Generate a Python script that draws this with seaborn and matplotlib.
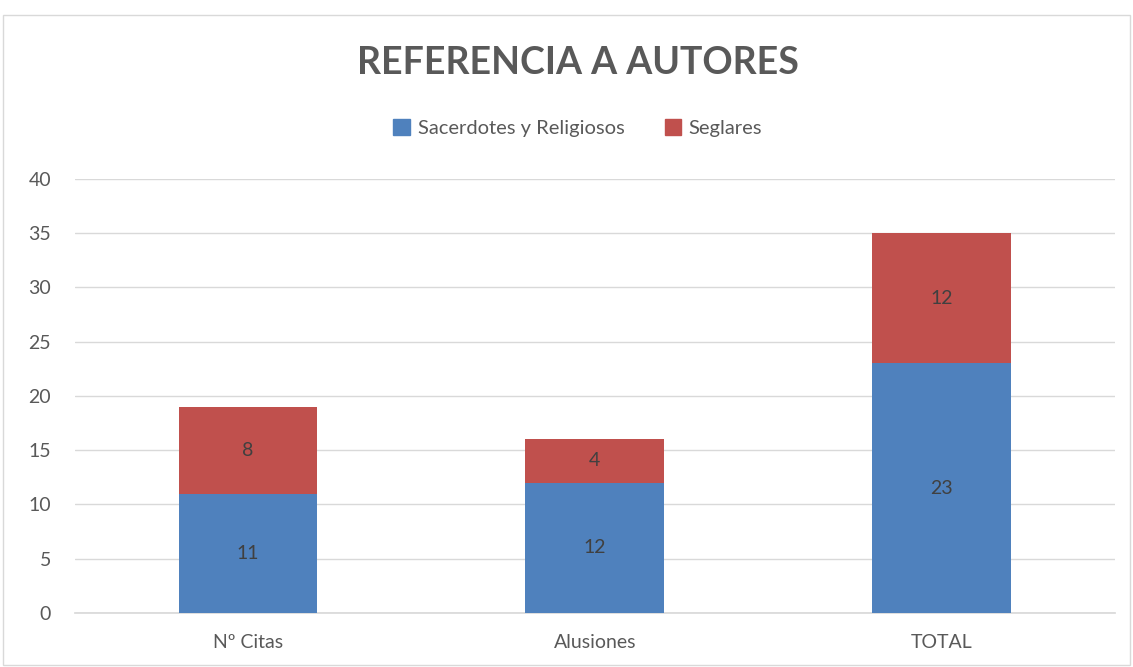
import numpy as np
import pandas as pd
import matplotlib
matplotlib.use("Agg")
import matplotlib.pyplot as plt
import seaborn as sns
from matplotlib.patches import Rectangle, Patch

### Data

categories = ["Nº Citas", "Alusiones", "TOTAL"]
sacerdotes = [11, 12, 23]
seglares = [8, 4, 12]

blue = "#4F81BD"
red = "#C0504D"
text_gray = "#595959"

sns.set_theme(style="white")
plt.rcParams['font.family'] = ['Lato', 'DejaVu Sans']

df = pd.DataFrame({"categoria": categories,
                   "Sacerdotes y Religiosos": sacerdotes,
                   "Seglares": seglares})
df["total"] = df["Sacerdotes y Religiosos"] + df["Seglares"]

### Plot

fig = plt.figure(figsize=(11.33, 6.67), dpi=100)
ax = fig.add_axes([0.066, 0.081, 0.918, 0.651])

# stacked bars: total in red, bottom part in blue on top of it
sns.barplot(data=df, x="categoria", y="total", color=red, saturation=1,
            width=0.4, ax=ax, zorder=2, linewidth=0)
sns.barplot(data=df, x="categoria", y="Sacerdotes y Religiosos", color=blue,
            saturation=1, width=0.4, ax=ax, zorder=3, linewidth=0)

for i, (s, g) in enumerate(zip(sacerdotes, seglares)):
    ax.text(i, s / 2, str(s), ha="center", va="center", fontsize=14, color="#404040", zorder=4)
    ax.text(i, s + g / 2, str(g), ha="center", va="center", fontsize=14, color="#404040", zorder=4)

ax.set_xlim(-0.5, 2.5)
ax.set_ylim(0, 40)
ax.set_yticks(range(0, 41, 5))
ax.yaxis.grid(True, color="#D9D9D9", linewidth=1)
ax.set_axisbelow(True)
ax.set_xlabel("")
ax.set_ylabel("")
for side in ["top", "right", "left"]:
    ax.spines[side].set_visible(False)
ax.spines["bottom"].set_color("#D9D9D9")
ax.tick_params(axis="both", labelsize=14, labelcolor=text_gray, length=0)
ax.tick_params(axis="x", pad=15)
ax.tick_params(axis="y", pad=17)

fig.text(0.51, 0.905, "REFERENCIA A AUTORES", ha="center", va="center",
         fontsize=27, fontweight="bold", color=text_gray)

handles = [Patch(color=blue, label="Sacerdotes y Religiosos"),
           Patch(color=red, label="Seglares")]
fig.legend(handles=handles, loc="center", bbox_to_anchor=(0.51, 0.808), ncol=2,
           frameon=False, fontsize=14.5, labelcolor=text_gray,
           handlelength=0.8, handleheight=0.8, columnspacing=2.0, handletextpad=0.4)

# outer chart border
fig.patches.append(Rectangle((0.003, 0.003), 0.994, 0.975, transform=fig.transFigure,
                             fill=False, edgecolor="#D9D9D9", linewidth=1))

fig.savefig("out.png", dpi=100)
